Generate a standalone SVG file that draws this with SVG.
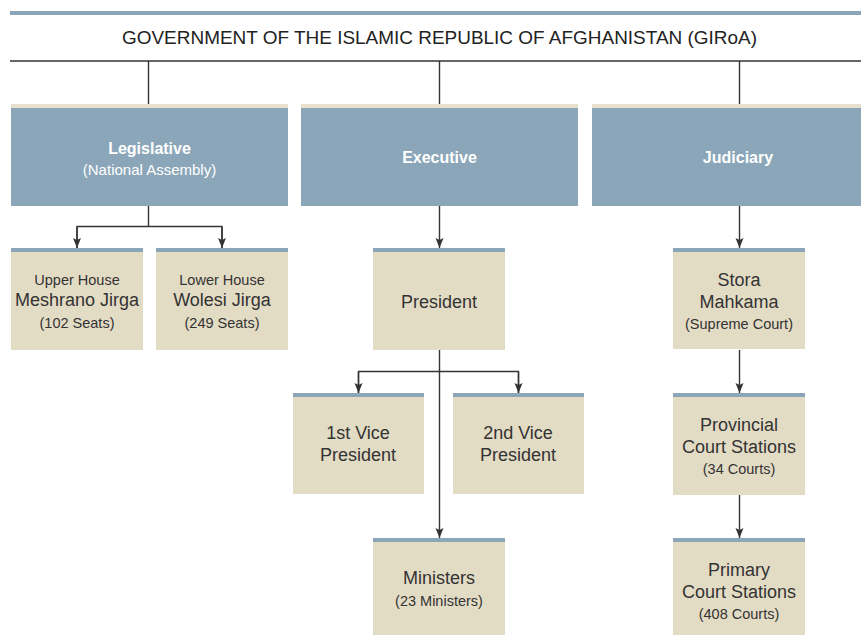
<svg xmlns="http://www.w3.org/2000/svg" width="861" height="635" viewBox="0 0 861 635">
<defs>
<style>
.blue{fill:#8ba6b9}
.beige{fill:#e3dcc5}
.strip{fill:#8ba6b9}
.bstrip{fill:#e6e0cc}
.ln{stroke:#333;stroke-width:1.4;fill:none}
.hd{font-family:"Liberation Sans",Arial,sans-serif;font-weight:bold;font-size:16px;fill:#fff;text-anchor:middle}
.hs{font-family:"Liberation Sans",Arial,sans-serif;font-size:15px;fill:#fff;text-anchor:middle}
.t{font-family:"Liberation Sans",Arial,sans-serif;font-size:18px;fill:#333;text-anchor:middle}
.s{font-family:"Liberation Sans",Arial,sans-serif;font-size:14.5px;fill:#333;text-anchor:middle}
.title{font-family:"Liberation Sans",Arial,sans-serif;font-size:19px;fill:#222;text-anchor:middle}
</style>
<marker id="arr" markerWidth="10" markerHeight="10" viewBox="0 0 10 10" refX="10" refY="5" orient="auto" markerUnits="userSpaceOnUse">
<path d="M0,1 L10,5 L0,9 L2,5 Z" fill="#333"/>
</marker>
</defs>
<rect width="861" height="635" fill="#fff"/>

<g id="top">
<rect x="10" y="11" width="851" height="4" class="strip"/>
<text x="439.5" y="44" class="title" textLength="635" lengthAdjust="spacingAndGlyphs">GOVERNMENT OF THE ISLAMIC REPUBLIC OF AFGHANISTAN (GIRoA)</text>
</g>

<g id="connectors">
<line x1="10" y1="61" x2="861" y2="61" class="ln"/>
<line x1="148.5" y1="61" x2="148.5" y2="104" class="ln"/>
<line x1="439.5" y1="61" x2="439.5" y2="104" class="ln"/>
<line x1="739.5" y1="61" x2="739.5" y2="104" class="ln"/>
<path d="M148.5,206 V226.5 M77,248 V226.5 H222 V248" class="ln"/>
<line x1="77" y1="227" x2="77" y2="248" class="ln" marker-end="url(#arr)"/>
<line x1="222" y1="227" x2="222" y2="248" class="ln" marker-end="url(#arr)"/>
<line x1="439.5" y1="206" x2="439.5" y2="248" class="ln" marker-end="url(#arr)"/>
<line x1="739.5" y1="206" x2="739.5" y2="248" class="ln" marker-end="url(#arr)"/>
<line x1="439.5" y1="350" x2="439.5" y2="538" class="ln" marker-end="url(#arr)"/>
<path d="M358.5,393 V371.5 H518.5 V393" class="ln"/>
<line x1="358.5" y1="372" x2="358.5" y2="393" class="ln" marker-end="url(#arr)"/>
<line x1="518.5" y1="372" x2="518.5" y2="393" class="ln" marker-end="url(#arr)"/>
<line x1="739.5" y1="350" x2="739.5" y2="393" class="ln" marker-end="url(#arr)"/>
<line x1="739.5" y1="495" x2="739.5" y2="538" class="ln" marker-end="url(#arr)"/>
</g>

<g id="legislative">
<rect x="11" y="104" width="277" height="4" class="bstrip"/>
<rect x="11" y="108" width="277" height="98" class="blue"/>
<text x="149.5" y="154" class="hd">Legislative</text>
<text x="149.5" y="175" class="hs">(National Assembly)</text>
</g>
<g id="executive">
<rect x="301" y="104" width="277" height="4" class="bstrip"/>
<rect x="301" y="108" width="277" height="98" class="blue"/>
<text x="439.5" y="163" class="hd">Executive</text>
</g>
<g id="judiciary">
<rect x="592" y="104" width="269" height="4" class="bstrip"/>
<rect x="592" y="108" width="269" height="98" class="blue"/>
<text x="738" y="163" class="hd">Judiciary</text>
</g>

<g id="upper-house">
<rect x="11" y="248" width="132" height="102" class="beige"/>
<rect x="11" y="248" width="132" height="4" class="strip"/>
<text x="77" y="285" class="s">Upper House</text>
<text x="77" y="306" class="t">Meshrano Jirga</text>
<text x="77" y="328" class="s">(102 Seats)</text>
</g>
<g id="lower-house">
<rect x="156" y="248" width="132" height="102" class="beige"/>
<rect x="156" y="248" width="132" height="4" class="strip"/>
<text x="222" y="285" class="s">Lower House</text>
<text x="222" y="306" class="t">Wolesi Jirga</text>
<text x="222" y="328" class="s">(249 Seats)</text>
</g>
<g id="president">
<rect x="373" y="248" width="132" height="102" class="beige"/>
<rect x="373" y="248" width="132" height="4" class="strip"/>
<text x="439" y="308" class="t">President</text>
</g>
<g id="vp1">
<rect x="293" y="393" width="131" height="101" class="beige"/>
<rect x="293" y="393" width="131" height="4" class="strip"/>
<text x="358" y="439" class="t">1st Vice</text>
<text x="358" y="461" class="t">President</text>
</g>
<g id="vp2">
<rect x="453" y="393" width="131" height="101" class="beige"/>
<rect x="453" y="393" width="131" height="4" class="strip"/>
<text x="518" y="439" class="t">2nd Vice</text>
<text x="518" y="461" class="t">President</text>
</g>
<g id="ministers">
<rect x="373" y="538" width="132" height="97" class="beige"/>
<rect x="373" y="538" width="132" height="4" class="strip"/>
<text x="439" y="584" class="t">Ministers</text>
<text x="439" y="606" class="s">(23 Ministers)</text>
</g>
<g id="stora-mahkama">
<rect x="673" y="248" width="132" height="101" class="beige"/>
<rect x="673" y="248" width="132" height="4" class="strip"/>
<text x="739" y="286" class="t">Stora</text>
<text x="739" y="308" class="t">Mahkama</text>
<text x="739" y="329" class="s">(Supreme Court)</text>
</g>
<g id="provincial">
<rect x="673" y="393" width="132" height="102" class="beige"/>
<rect x="673" y="393" width="132" height="4" class="strip"/>
<text x="739" y="431" class="t">Provincial</text>
<text x="739" y="453" class="t">Court Stations</text>
<text x="739" y="474" class="s">(34 Courts)</text>
</g>
<g id="primary">
<rect x="673" y="538" width="132" height="97" class="beige"/>
<rect x="673" y="538" width="132" height="4" class="strip"/>
<text x="739" y="576" class="t">Primary</text>
<text x="739" y="598" class="t">Court Stations</text>
<text x="739" y="619" class="s">(408 Courts)</text>
</g>
</svg>
